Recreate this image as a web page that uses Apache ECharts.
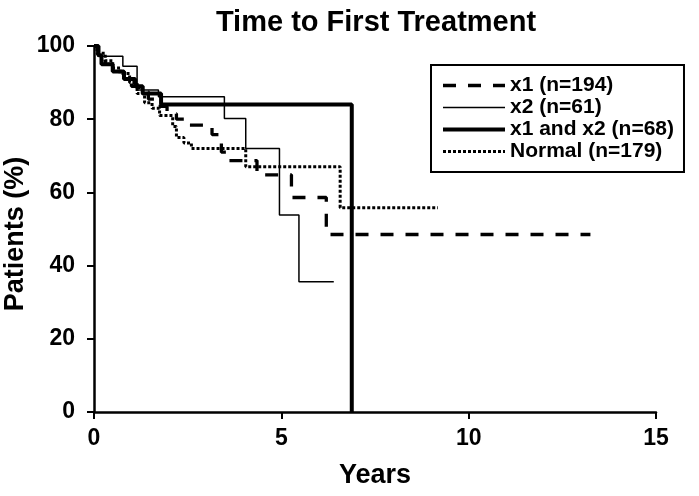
<!DOCTYPE html>
<html>
<head>
<meta charset="utf-8">
<script src="https://cdn.jsdelivr.net/npm/echarts@6/dist/echarts.min.js"></script>
<style>
html,body{margin:0;padding:0;background:#fff;}
#chart{width:699px;height:496px;}
</style>
</head>
<body>
<div id="chart"></div>
<script>
// Kaplan-Meier step curves: event times (years) and survival (%)
const x1Times   = [0, 0.1, 0.3, 0.55, 0.8, 1.0, 1.2, 1.45, 1.7, 1.95, 2.2, 2.45, 3.15, 3.4, 3.6, 4.35, 5.27, 6.2, 13.25];
const x1Surv    = [100, 97, 95, 93, 91, 89, 87.5, 85.5, 83.5, 81.5, 80, 78.4, 75.8, 71, 68.7, 64.8, 58.6, 48.5, 48.5];

const x2Times   = [0, 0.1, 0.77, 1.15, 1.72, 3.48, 4.05, 4.95, 5.47, 6.40];
const x2Surv    = [100, 97.2, 94.5, 88, 86.1, 80.2, 72.0, 53.8, 35.6, 35.6];

const bothTimes = [0, 0.12, 0.2, 0.5, 0.8, 1.1, 1.3, 1.79, 6.88];
const bothSurv  = [100, 97.5, 95, 93, 91, 89, 87, 84, 0];

const normTimes = [0, 0.08, 0.3, 0.5, 0.7, 0.95, 1.15, 1.35, 1.55, 1.75, 2.1, 2.2, 2.4, 2.6, 4.05, 6.57, 9.18];
const normSurv  = [100, 98, 96, 94, 92.5, 90, 87, 84.5, 83, 81, 78, 75, 73.5, 72, 67, 55.8, 55.8];

const seriesNames = ['x1 (n=194)', 'x2 (n=61)', 'x1 and x2 (n=68)', 'Normal (n=179)'];
const xTicks = {min: 0, max: 15, interval: 5};
const yTicks = {min: 0, max: 100, interval: 20};
const yAxisTitle = 'Patients (%)';

function pairs(t, v) { return t.map((x, i) => [x, v[i]]); }

const chart = echarts.init(document.getElementById('chart'), null, {renderer: 'canvas'});
const FONT = '"Liberation Sans", Arial, sans-serif';
const axisCommon = {
  axisLine: {show: true, onZero: false, lineStyle: {color: '#000', width: 2.5}},
  axisTick: {show: true, inside: false, length: 7, lineStyle: {color: '#000', width: 2}},
  splitLine: {show: false},
  axisLabel: {color: '#000', fontFamily: FONT, fontWeight: 'bold', fontSize: 23},
  nameTextStyle: {color: '#000', fontFamily: FONT, fontWeight: 'bold', fontSize: 27}
};

const styles = [
  {width: 3.3, type: [13, 12]},
  {width: 1.5, type: 'solid'},
  {width: 4, type: 'solid'},
  {width: 3, type: [3, 2]}
];

chart.setOption({
  animation: false,
  backgroundColor: '#fff',
  title: {
    text: 'Time to First Treatment',
    left: 371, top: 3, textAlign: 'center',
    textStyle: {color: '#000', fontFamily: FONT, fontWeight: 'bold', fontSize: 29}
  },
  grid: {left: 94, right: 43, top: 46, bottom: 84, containLabel: false, outerBoundsMode: 'none'},
  legend: {
    orient: 'vertical',
    left: 431, top: 65,
    backgroundColor: '#fff',
    borderColor: '#000', borderWidth: 2,
    padding: [10, 10, 10, 10],
    itemWidth: 62, itemHeight: 14, itemGap: 1,
    itemStyle: {opacity: 0},
    textStyle: {color: '#000', fontFamily: FONT, fontWeight: 'bold', fontSize: 21, lineHeight: 21},
    data: seriesNames.map((n, i) => ({
      name: n,
      itemStyle: {opacity: 0},
      lineStyle: {color: '#000', width: styles[i].width, type: styles[i].type}
    }))
  },
  graphic: [{
    type: 'text', x: 16, y: 234, rotation: Math.PI / 2,
    style: {
      text: yAxisTitle, fill: '#000',
      font: 'bold 27px "Liberation Sans", Arial, sans-serif',
      textAlign: 'center', textVerticalAlign: 'middle'
    }
  }],
  xAxis: Object.assign({}, axisCommon, {
    type: 'value', min: xTicks.min, max: xTicks.max, interval: xTicks.interval,
    name: 'Years', nameLocation: 'middle', nameGap: 50,
    axisLabel: Object.assign({}, axisCommon.axisLabel, {margin: 15})
  }),
  yAxis: Object.assign({}, axisCommon, {
    type: 'value', min: yTicks.min, max: yTicks.max, interval: yTicks.interval,
    axisLabel: Object.assign({}, axisCommon.axisLabel, {margin: 19})
  }),
  series: seriesNames.map((n, i) => ({
    name: n, type: 'line', step: 'end', symbol: 'none',
    data: [pairs(x1Times, x1Surv), pairs(x2Times, x2Surv), pairs(bothTimes, bothSurv), pairs(normTimes, normSurv)][i],
    lineStyle: {color: '#000', width: styles[i].width, type: styles[i].type},
    itemStyle: {color: '#000'}
  }))
});
</script>
</body>
</html>
